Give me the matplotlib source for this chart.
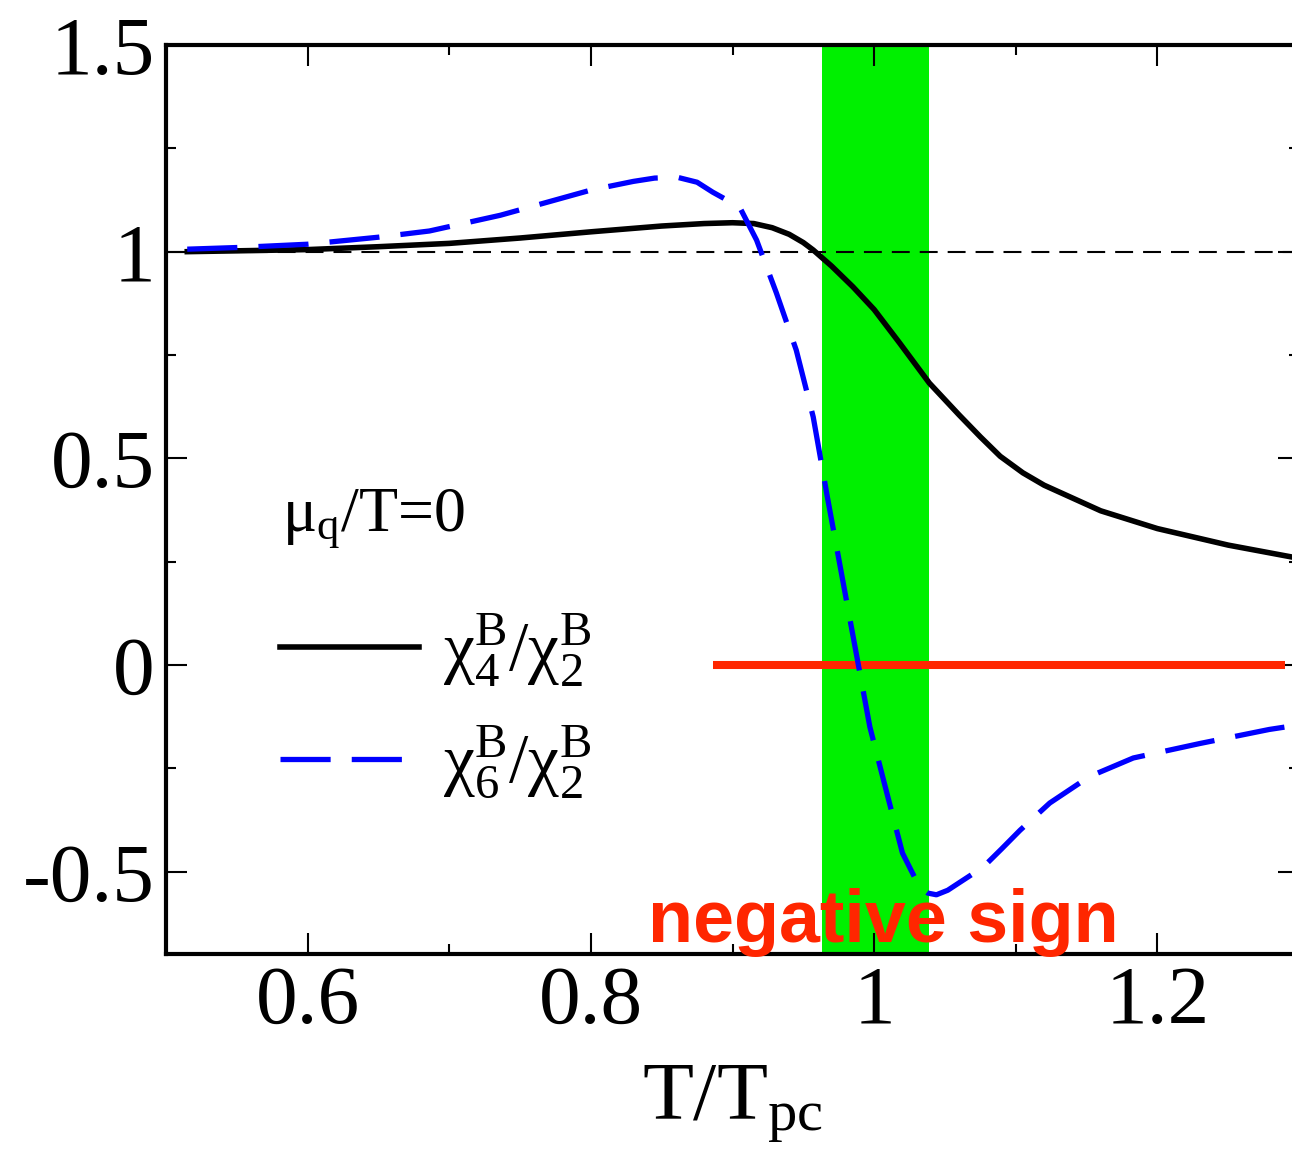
import matplotlib
matplotlib.use("Agg")
import matplotlib.pyplot as plt
from matplotlib.ticker import MultipleLocator, FixedLocator, FixedFormatter

plt.rcParams['font.family'] = ['Liberation Serif', 'DejaVu Serif']
plt.rcParams['mathtext.fontset'] = 'custom'
plt.rcParams['mathtext.rm'] = 'Liberation Serif'
plt.rcParams['mathtext.it'] = 'Liberation Serif:italic'
plt.rcParams['mathtext.bf'] = 'Liberation Serif:bold'
plt.rcParams['axes.unicode_minus'] = False

# ---- data ----
t_chi4 = [0.515, 0.55, 0.6, 0.65, 0.7, 0.75, 0.8, 0.85, 0.88, 0.9, 0.915, 0.928,
          0.94, 0.95, 0.957, 0.97, 0.985, 1.0, 1.018, 1.039, 1.06, 1.075, 1.089, 1.105,
          1.12, 1.16, 1.2, 1.25, 1.3]
r_chi4 = [1.0, 1.002, 1.005, 1.012, 1.02, 1.033, 1.048, 1.062, 1.068, 1.07, 1.068,
          1.058, 1.042, 1.022, 1.004, 0.965, 0.915, 0.86, 0.779, 0.682, 0.605, 0.552,
          0.505, 0.465, 0.435, 0.373, 0.33, 0.29, 0.258]

t_chi6 = [0.515, 0.55, 0.6, 0.65, 0.686, 0.736, 0.8, 0.83, 0.845, 0.861, 0.875,
          0.886, 0.905, 0.917, 0.931, 0.945, 0.957, 0.967, 0.983, 0.997, 1.009,
          1.02, 1.032, 1.038, 1.044, 1.052, 1.06, 1.077, 1.09, 1.103, 1.124, 1.152,
          1.183, 1.23, 1.279, 1.3]
r_chi6 = [1.006, 1.01, 1.018, 1.035, 1.05, 1.088, 1.149, 1.17, 1.178, 1.18, 1.168,
          1.144, 1.108, 1.028, 0.9, 0.762, 0.6, 0.406, 0.109, -0.15, -0.31,
          -0.455, -0.537, -0.552, -0.556, -0.545, -0.527, -0.489, -0.445, -0.4,
          -0.334, -0.27, -0.225, -0.19, -0.156, -0.145]

band_range = [0.9635, 1.039]          # T/Tpc crossover band
red_line_range = [0.886, 1.29]        # highlighted zero line
xticks = [0.6, 0.8, 1.0, 1.2]
xticklabels = ['0.6', '0.8', '1', '1.2']
yticks = [-0.5, 0.0, 0.5, 1.0, 1.5]
yticklabels = ['-0.5', '0', '0.5', '1', '1.5']
label_chi4 = r'$\mathrm{\chi}_{4}^{\mathrm{B}}/\mathrm{\chi}_{2}^{\mathrm{B}}$'
label_chi6 = r'$\mathrm{\chi}_{6}^{\mathrm{B}}/\mathrm{\chi}_{2}^{\mathrm{B}}$'

fig = plt.figure(figsize=(12.92, 11.65), dpi=100)
ax = fig.add_axes([166/1292, 1-954.3/1165, (1299-166)/1292, (954.3-45)/1165])

ax.axvspan(band_range[0], band_range[1], color='#00f000', lw=0, zorder=1)
ax.axhline(1.0, color='black', lw=1.5, dashes=(8.6, 4.8), zorder=2)
ax.hlines(0.0, red_line_range[0], red_line_range[1], color='#ff2600', lw=5.8, zorder=2)

l4, = ax.plot(t_chi4, r_chi4, color='black', lw=4.0, zorder=3,
              solid_joinstyle='round', label=label_chi4)
l6, = ax.plot(t_chi6, r_chi6, color='#0000ff', lw=3.8, dashes=(9.5, 4), zorder=3,
              dash_joinstyle='round', label=label_chi6)

ax.set_xlim(0.5, 1.3)
ax.set_ylim(-0.7, 1.5)
ax.xaxis.set_major_locator(FixedLocator(xticks))
ax.xaxis.set_major_formatter(FixedFormatter(xticklabels))
ax.yaxis.set_major_locator(FixedLocator(yticks))
ax.yaxis.set_major_formatter(FixedFormatter(yticklabels))
ax.xaxis.set_minor_locator(MultipleLocator(0.1))
ax.yaxis.set_minor_locator(MultipleLocator(0.25))
ax.tick_params(which='both', direction='in', top=True, right=True, width=1.5)
ax.tick_params(which='major', length=15, labelsize=60, pad=8)
ax.tick_params(which='minor', length=7.5)
for s in ax.spines.values():
    s.set_linewidth(3)

ax.set_xlabel(r'T/T$_{\mathrm{pc}}$', fontsize=60, labelpad=16)

ax.text(0.582, 0.327, r'$\mathrm{\mu}_{\mathrm{q}}$/T=0', fontsize=46, va='baseline', ha='left')

leg = ax.legend(handles=[l4, l6], loc='center left', bbox_to_anchor=(0.1006, 0.273),
                frameon=False, fontsize=50, handlelength=2.0, handletextpad=0.35,
                borderpad=0, borderaxespad=0, labelspacing=0.5)

ax.text(0.84, -0.67, 'negative sign', fontsize=53, fontweight='bold', color='#ff2600',
        family='Liberation Sans', va='baseline', ha='left', zorder=5)

fig.savefig('out.png', dpi=100)
